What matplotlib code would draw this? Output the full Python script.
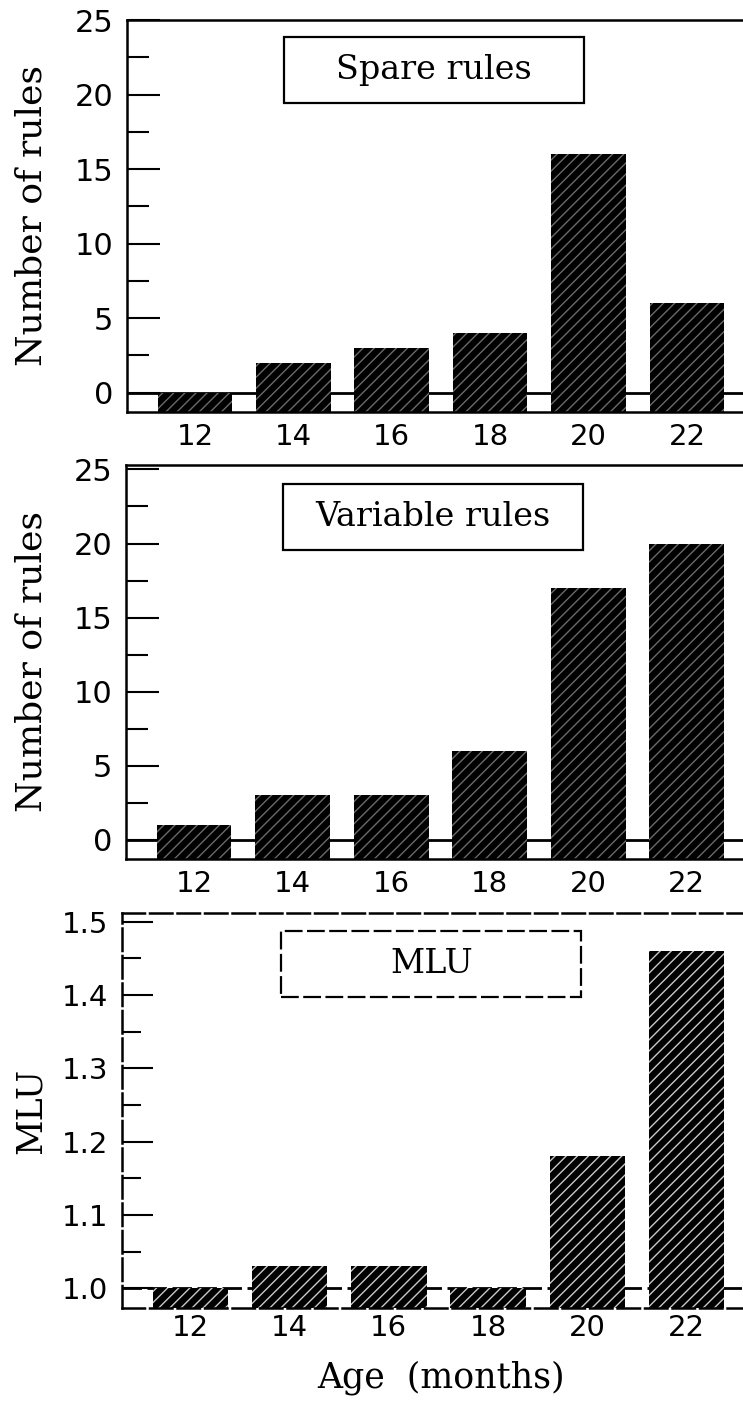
import matplotlib
matplotlib.use("Agg")
import matplotlib.pyplot as plt
from matplotlib.patches import Rectangle
from matplotlib.ticker import MultipleLocator

# Datos
ages = [12, 14, 16, 18, 20, 22]
spare_rules = [0, 2, 3, 4, 16, 6]
variable_rules = [1, 3, 3, 6, 17, 20]
mlu = [1.00, 1.03, 1.03, 1.00, 1.18, 1.46]

panel_titles = ["Spare rules", "Variable rules", "MLU"]
y_labels = ["Number of rules", "Number of rules", "MLU"]

plt.rcParams["hatch.linewidth"] = 1.0

fig = plt.figure(figsize=(7.43, 14.06), dpi=100)

# posiciones en pixeles medidas en la referencia: izq, arriba, abajo
W, H = 743, 1406
marcos = [(127, 20, 412), (126, 465, 859), (122, 913, 1308)]
ylims = [(-1.3, 25.0), (-1.3, 25.3), (0.973, 1.512)]
bases = [0, 0, 1.0]
series = [spare_rules, variable_rules, mlu]
label_x = [-0.128, -0.126, -0.119]
box_y = [0.872, 0.869, 0.871]

for i, valores in enumerate(series):
    izq, arriba, abajo = marcos[i]
    ax = fig.add_axes([izq / W, (H - abajo) / H, (W - izq) / W, (abajo - arriba) / H])
    ax.set_xlim(10.62, 23.14)
    ax.set_ylim(*ylims[i])
    fondo = ylims[i][0]
    discontinuo = i == 2

    ax.axhline(bases[i], color="black", lw=2.0, zorder=1,
               linestyle=(0, (7, 2)) if discontinuo else "-")
    ax.bar(ages, [v - fondo for v in valores], bottom=fondo, width=1.52,
           color="black", edgecolor="#c8c8c8" if discontinuo else "#6a6a6a",
           hatch="///", linewidth=0, zorder=2)

    for lado in ["top", "left", "bottom"]:
        ax.spines[lado].set_linewidth(1.8)
        if discontinuo:
            ax.spines[lado].set_linestyle((0, (9, 2)))
    ax.spines["right"].set_visible(False)

    ax.set_xticks(ages)
    ax.tick_params(axis="x", length=0, pad=8 if i < 2 else 4, labelsize=21)
    if discontinuo:
        ax.yaxis.set_major_locator(MultipleLocator(0.1))
        ax.yaxis.set_minor_locator(MultipleLocator(0.05))
        ax.set_yticks([1.0, 1.1, 1.2, 1.3, 1.4, 1.5])
        ax.set_yticklabels(["1.0", "1.1", "1.2", "1.3", "1.4", "1.5"])
        ax.tick_params(axis="y", which="major", direction="in", length=22,
                       width=1.5, pad=10, labelsize=21)
        ax.tick_params(axis="y", which="minor", direction="in", length=14, width=1.5)
    else:
        ax.yaxis.set_major_locator(MultipleLocator(5))
        ax.yaxis.set_minor_locator(MultipleLocator(2.5))
        ax.tick_params(axis="y", which="major", direction="in", length=24,
                       width=1.5, pad=10, labelsize=22)
        ax.tick_params(axis="y", which="minor", direction="in", length=16, width=1.5)

    ax.set_ylabel(y_labels[i], family="DejaVu Serif", fontsize=26 if i < 2 else 25)
    ax.yaxis.set_label_coords(label_x[i], 0.5)

    # recuadro con el titulo del panel
    ancho = 300 / (W - izq)
    alto = 66 / (abajo - arriba)
    cx = 0.498
    ax.add_patch(Rectangle((cx - ancho / 2, box_y[i] - alto / 2), ancho, alto,
                           transform=ax.transAxes, fill=False, lw=1.6,
                           linestyle=(0, (8, 2)) if discontinuo else "-", zorder=3))
    ax.text(cx, box_y[i], panel_titles[i], transform=ax.transAxes, ha="center",
            va="center", family="DejaVu Serif", fontsize=24, zorder=4)

fig.text(441 / W, (H - 1378) / H, "Age  (months)", ha="center", va="center",
         family="DejaVu Serif", fontsize=25)

fig.savefig("out.png", dpi=100)
